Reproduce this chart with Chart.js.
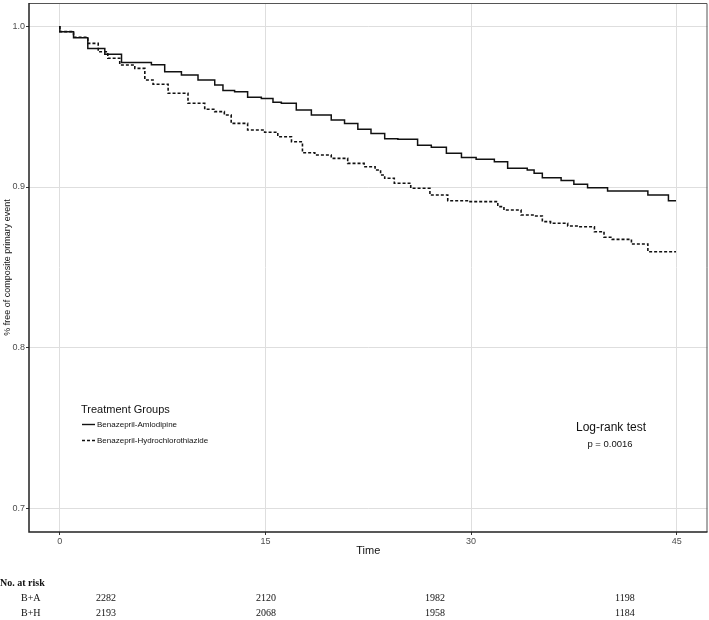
<!DOCTYPE html>
<html>
<head>
<meta charset="utf-8">
<script src="https://cdn.jsdelivr.net/npm/chart.js@4/dist/chart.umd.min.js"></script>
<style>
  html, body { margin: 0; padding: 0; background: #ffffff; }
  #wrap { position: relative; width: 709px; height: 620px; }
  canvas { display: block; }
</style>
</head>
<body>
<div id="wrap"><canvas id="c" width="709" height="620"></canvas></div>
<script>
// ---- data ----
const seriesNames = ['Benazepril-Amlodipine', 'Benazepril-Hydrochlorothiazide'];
const timesBA = [0, 1.0, 2.04, 3.28, 4.5, 6.68, 7.65, 8.87, 10.08, 11.3, 11.9, 12.75, 13.7, 14.7, 15.55, 16.16, 17.25, 18.35, 19.8, 20.77, 21.74, 22.7, 23.7, 24.66, 26.1, 27.1, 28.2, 29.3, 30.37, 31.7, 32.67, 34.1, 34.6, 35.2, 36.57, 37.5, 38.5, 39.96, 42.9, 44.4, 44.6, 44.95];
const survBA  = [1.0, 0.9965, 0.9927, 0.9861, 0.9824, 0.9774, 0.976, 0.9716, 0.9696, 0.9665, 0.9634, 0.960, 0.9592, 0.9557, 0.955, 0.9526, 0.952, 0.9478, 0.9447, 0.9416, 0.9395, 0.9358, 0.9333, 0.930, 0.9296, 0.926, 0.9247, 0.921, 0.9184, 0.9172, 0.9157, 0.9116, 0.9106, 0.9085, 0.9058, 0.904, 0.9017, 0.8996, 0.8975, 0.895, 0.8915, 0.8915];
const timesBH = [0, 1.0, 2.04, 2.8, 3.5, 4.37, 5.47, 6.2, 6.8, 7.9, 9.35, 10.57, 11.3, 12.0, 12.5, 13.7, 14.94, 15.9, 16.9, 17.7, 18.6, 19.8, 21.0, 22.2, 23.0, 23.4, 23.7, 24.4, 25.6, 27.0, 28.3, 29.8, 31.95, 32.4, 33.65, 34.6, 35.2, 35.8, 37.05, 37.8, 39.0, 39.7, 40.3, 41.7, 42.9, 43.4, 44.95];
const survBH  = [1.0, 0.9965, 0.993, 0.9892, 0.984, 0.980, 0.9758, 0.9737, 0.9665, 0.9638, 0.9582, 0.952, 0.9483, 0.9468, 0.9447, 0.9395, 0.9354, 0.934, 0.9312, 0.9281, 0.9213, 0.9199, 0.9178, 0.9147, 0.9126, 0.9106, 0.9075, 0.9054, 0.9023, 0.8992, 0.895, 0.8915, 0.8909, 0.8878, 0.8857, 0.8826, 0.882, 0.8785, 0.8775, 0.8758, 0.8753, 0.8722, 0.8688, 0.8675, 0.8646, 0.8598, 0.8598];
const xTicks = [0, 15, 30, 45];
const yTicks = [0.7, 0.8, 0.9, 1.0];
const yTickLabels = ['0.7', '0.8', '0.9', '1.0'];
const riskRowLabels = ['B+A', 'B+H'];
const riskBA = [2282, 2120, 1982, 1198];
const riskBH = [2193, 2068, 1958, 1184];
const testTitle = 'Log-rank test';
const testP = 'p = 0.0016';

const toXY = (ts, ss) => ts.map((t, i) => ({ x: t, y: ss[i] }));

const annotations = {
  id: 'annotations',
  afterDraw(chart) {
    const ctx = chart.ctx;
    const a = chart.chartArea;
    ctx.save();
    // panel border
    ctx.strokeStyle = '#555555';
    ctx.lineWidth = 1;
    ctx.beginPath();
    ctx.moveTo(a.left, a.top + 0.5); ctx.lineTo(a.right - 0.5, a.top + 0.5); ctx.lineTo(a.right - 0.5, a.bottom);
    ctx.stroke();
    ctx.strokeStyle = '#222222';
    ctx.lineWidth = 1.5;
    ctx.beginPath();
    ctx.moveTo(a.left, a.top); ctx.lineTo(a.left, a.bottom); ctx.lineTo(a.right, a.bottom);
    ctx.stroke();

    // legend
    ctx.fillStyle = '#111111';
    ctx.textBaseline = 'middle';
    ctx.textAlign = 'left';
    ctx.font = '11px "Liberation Sans", Arial, sans-serif';
    ctx.fillText('Treatment Groups', 81, 410);
    ctx.font = '8px "Liberation Sans", Arial, sans-serif';
    ctx.strokeStyle = '#111111';
    ctx.lineWidth = 1.4;
    ctx.setLineDash([]);
    ctx.beginPath(); ctx.moveTo(82, 424.5); ctx.lineTo(95, 424.5); ctx.stroke();
    ctx.fillText(seriesNames[0], 97, 424.5);
    ctx.setLineDash([3, 2]);
    ctx.beginPath(); ctx.moveTo(82, 440.5); ctx.lineTo(95, 440.5); ctx.stroke();
    ctx.setLineDash([]);
    ctx.fillText(seriesNames[1], 97, 440.5);

    // log-rank annotation
    ctx.textAlign = 'center';
    ctx.font = '12px "Liberation Sans", Arial, sans-serif';
    ctx.fillText(testTitle, 611, 428);
    ctx.font = '9.5px "Liberation Sans", Arial, sans-serif';
    ctx.fillText(testP, 610, 444);

    // risk table
    ctx.textAlign = 'left';
    ctx.fillStyle = '#111111';
    ctx.font = 'bold 10px "Liberation Serif", "Times New Roman", serif';
    ctx.fillText('No. at risk', 0, 583);
    ctx.font = '10px "Liberation Serif", "Times New Roman", serif';
    ctx.fillText(riskRowLabels[0], 21, 598);
    ctx.fillText(riskRowLabels[1], 21, 613);
    const colX = [96, 256, 425, 615];
    riskBA.forEach((v, i) => ctx.fillText(String(v), colX[i], 598));
    riskBH.forEach((v, i) => ctx.fillText(String(v), colX[i], 613));
    ctx.restore();
  }
};

new Chart(document.getElementById('c'), {
  type: 'line',
  data: {
    datasets: [
      {
        label: seriesNames[0],
        data: toXY(timesBA, survBA),
        borderColor: '#111111',
        borderWidth: 1.5,
        pointRadius: 0,
        stepped: 'after',
        fill: false
      },
      {
        label: seriesNames[1],
        data: toXY(timesBH, survBH),
        borderColor: '#111111',
        borderWidth: 1.6,
        borderDash: [3, 2],
        pointRadius: 0,
        stepped: 'after',
        fill: false
      }
    ]
  },
  options: {
    responsive: false,
    animation: false,
    devicePixelRatio: 1,
    layout: { padding: { left: 0, right: 1.5, top: 3, bottom: 62 } },
    plugins: { legend: { display: false }, tooltip: { enabled: false } },
    scales: {
      x: {
        type: 'linear',
        min: -2.25,
        max: 47.25,
        afterBuildTicks: (s) => { s.ticks = xTicks.map(v => ({ value: v })); },
        afterFit: (s) => { s.height = 26; s.paddingLeft = 0; s.paddingRight = 0; },
        border: { display: false },
        grid: { color: '#dedede', lineWidth: 1, tickLength: 3, tickColor: '#333333' },
        ticks: { color: '#4d4d4d', font: { size: 9, family: '"Liberation Sans", Arial, sans-serif' }, padding: 1, maxRotation: 0 },
        title: { display: true, text: 'Time', color: '#111111', padding: 0, font: { size: 11, family: '"Liberation Sans", Arial, sans-serif' } }
      },
      y: {
        type: 'linear',
        min: 0.6857,
        max: 1.0143,
        afterBuildTicks: (s) => { s.ticks = yTicks.map(v => ({ value: v })); },
        afterFit: (s) => { s.width = 29; s.paddingTop = 0; s.paddingBottom = 0; },
        border: { display: false },
        grid: { color: '#dedede', lineWidth: 1, tickLength: 3, tickColor: '#333333' },
        ticks: {
          color: '#4d4d4d',
          font: { size: 9, family: '"Liberation Sans", Arial, sans-serif' },
          padding: 1,
          callback: (v) => { const i = yTicks.findIndex(t => Math.abs(t - v) < 1e-9); return i >= 0 ? yTickLabels[i] : ''; }
        },
        title: { display: true, text: '% free of composite primary event', color: '#111111', padding: 2.5, font: { size: 9, family: '"Liberation Sans", Arial, sans-serif' } }
      }
    }
  },
  plugins: [annotations]
});
</script>
</body>
</html>
